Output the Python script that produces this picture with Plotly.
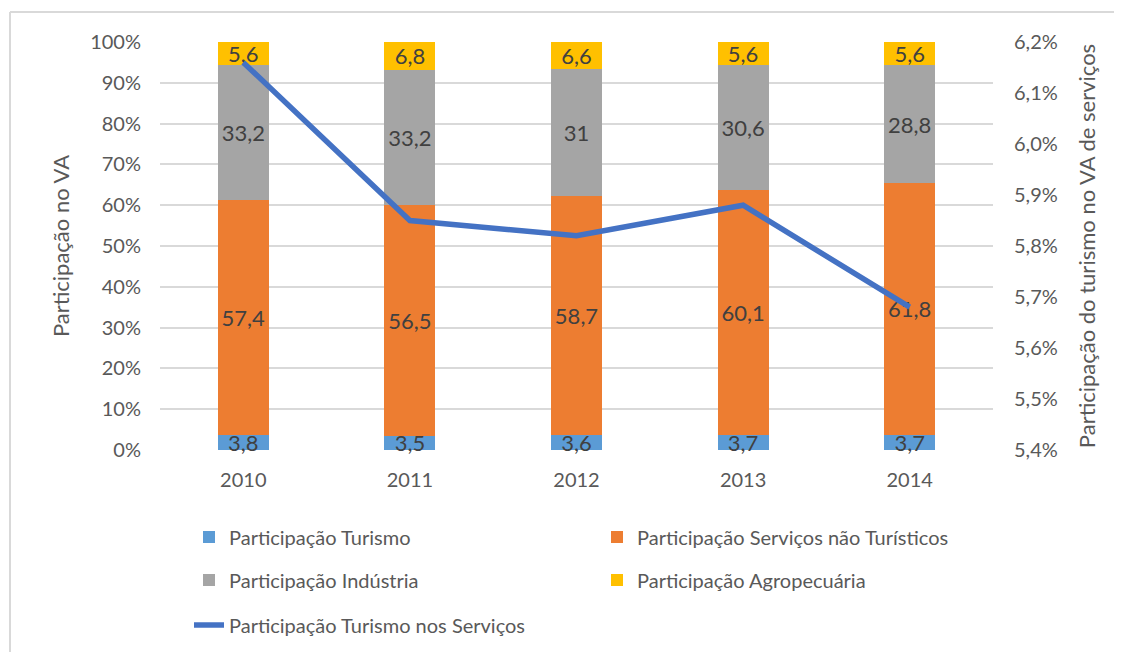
import plotly.graph_objects as go

years = ["2010", "2011", "2012", "2013", "2014"]
turismo = [3.8, 3.5, 3.6, 3.7, 3.7]
servicos = [57.4, 56.5, 58.7, 60.1, 61.8]
industria = [33.2, 33.2, 31, 30.6, 28.8]
agro = [5.6, 6.8, 6.6, 5.6, 5.6]
turismo_servicos = [6.16, 5.85, 5.82, 5.88, 5.68]

left_ticks = list(range(0, 101, 10))
right_ticks = [5.4, 5.5, 5.6, 5.7, 5.8, 5.9, 6.0, 6.1, 6.2]

FONT = "Lato, 'Open Sans', sans-serif"
LABEL_COLOR = "#404040"
AXIS_COLOR = "#595959"


def fmt(v):
    return ("%g" % v).replace(".", ",")


series = [
    ("Participação Turismo", turismo, "#5B9BD5", "legend"),
    ("Participação Serviços não Turísticos", servicos, "#ED7D31", "legend2"),
    ("Participação Indústria", industria, "#A5A5A5", "legend3"),
    ("Participação Agropecuária", agro, "#FFC000", "legend4"),
]

fig = go.Figure()
for name, vals, color, lg in series:
    fig.add_trace(go.Bar(
        x=years, y=vals, name=name, marker=dict(color=color, line=dict(width=0)),
        text=[fmt(v) for v in vals], textposition="inside", insidetextanchor="middle",
        constraintext="none", textangle=0, cliponaxis=False,
        textfont=dict(family=FONT, size=22, color=LABEL_COLOR),
        legend=lg, hoverinfo="skip", showlegend=True,
    ))

fig.add_trace(go.Scatter(
    x=years, y=turismo_servicos, name="Participação Turismo nos Serviços",
    mode="lines", line=dict(color="#4472C4", width=5.5), yaxis="y2",
    legend="legend5", hoverinfo="skip", showlegend=True,
))

# page body has an 8px margin; plot area should land at screen x 160..993, y 42..450
OFF = 8
W, H = 1122, 652
SL, SR, ST, SB = 160, 993, 42, 450
PL = SL - OFF
PR = W - (SR - OFF)
PT = ST - OFF
PB = H - (SB - OFF)
plot_w = SR - SL
plot_h = SB - ST


def px_x(px):
    return (px - SL) / plot_w


def px_y(py):
    return (SB - py) / plot_h


legend_base = dict(font=dict(family=FONT, size=20, color=AXIS_COLOR), bgcolor="rgba(0,0,0,0)",
                   borderwidth=0, xanchor="left", yanchor="middle", orientation="h", visible=True)

border = dict(color="#D9D9D9", width=2)

fig.update_layout(
    width=W, height=H,
    margin=dict(l=PL, r=PR, t=PT, b=PB, autoexpand=False),
    paper_bgcolor="white", plot_bgcolor="white",
    barmode="stack", bargap=0.694,
    separators=",.",
    showlegend=True,
    font=dict(family=FONT, color=AXIS_COLOR),
    uniformtext=dict(minsize=22, mode="show"),
    xaxis=dict(
        type="category", showgrid=False, zeroline=False, showline=False, ticks="",
        tickfont=dict(family=FONT, size=20, color=AXIS_COLOR), ticklabelstandoff=16,
    ),
    yaxis=dict(
        range=[0, 100], tickvals=left_ticks, ticktext=[f"{t}%" for t in left_ticks],
        showgrid=True, gridcolor="#D9D9D9", gridwidth=1.5, zeroline=False, showline=False,
        ticks="", tickfont=dict(family=FONT, size=20, color=AXIS_COLOR), ticklabelstandoff=18,
        title=dict(text="Participação no VA", font=dict(family=FONT, size=22, color=AXIS_COLOR), standoff=14),
        automargin=False,
    ),
    yaxis2=dict(
        overlaying="y", side="right", range=[5.4, 6.2], tickvals=right_ticks,
        ticktext=[("%.1f" % t).replace(".", ",") + "%" for t in right_ticks],
        showgrid=False, zeroline=False, showline=False, ticks="",
        tickfont=dict(family=FONT, size=20, color=AXIS_COLOR), ticklabelstandoff=20,
        title=dict(text="Participação do turismo no VA de serviços",
                   font=dict(family=FONT, size=22, color=AXIS_COLOR), standoff=22),
        automargin=False,
    ),
    legend=dict(legend_base, x=px_x(189), y=px_y(537)),
    legend2=dict(legend_base, x=px_x(597), y=px_y(537)),
    legend3=dict(legend_base, x=px_x(189), y=px_y(580)),
    legend4=dict(legend_base, x=px_x(597), y=px_y(580)),
    legend5=dict(legend_base, x=px_x(189), y=px_y(625)),
    shapes=[
        dict(type="line", xref="paper", yref="paper",
             x0=px_x(10), x1=px_x(1135), y0=px_y(12), y1=px_y(12), line=border, layer="below"),
        dict(type="line", xref="paper", yref="paper",
             x0=px_x(10), x1=px_x(10), y0=px_y(12), y1=px_y(680), line=border, layer="below"),
    ],
)

fig.write_html("out.html")
